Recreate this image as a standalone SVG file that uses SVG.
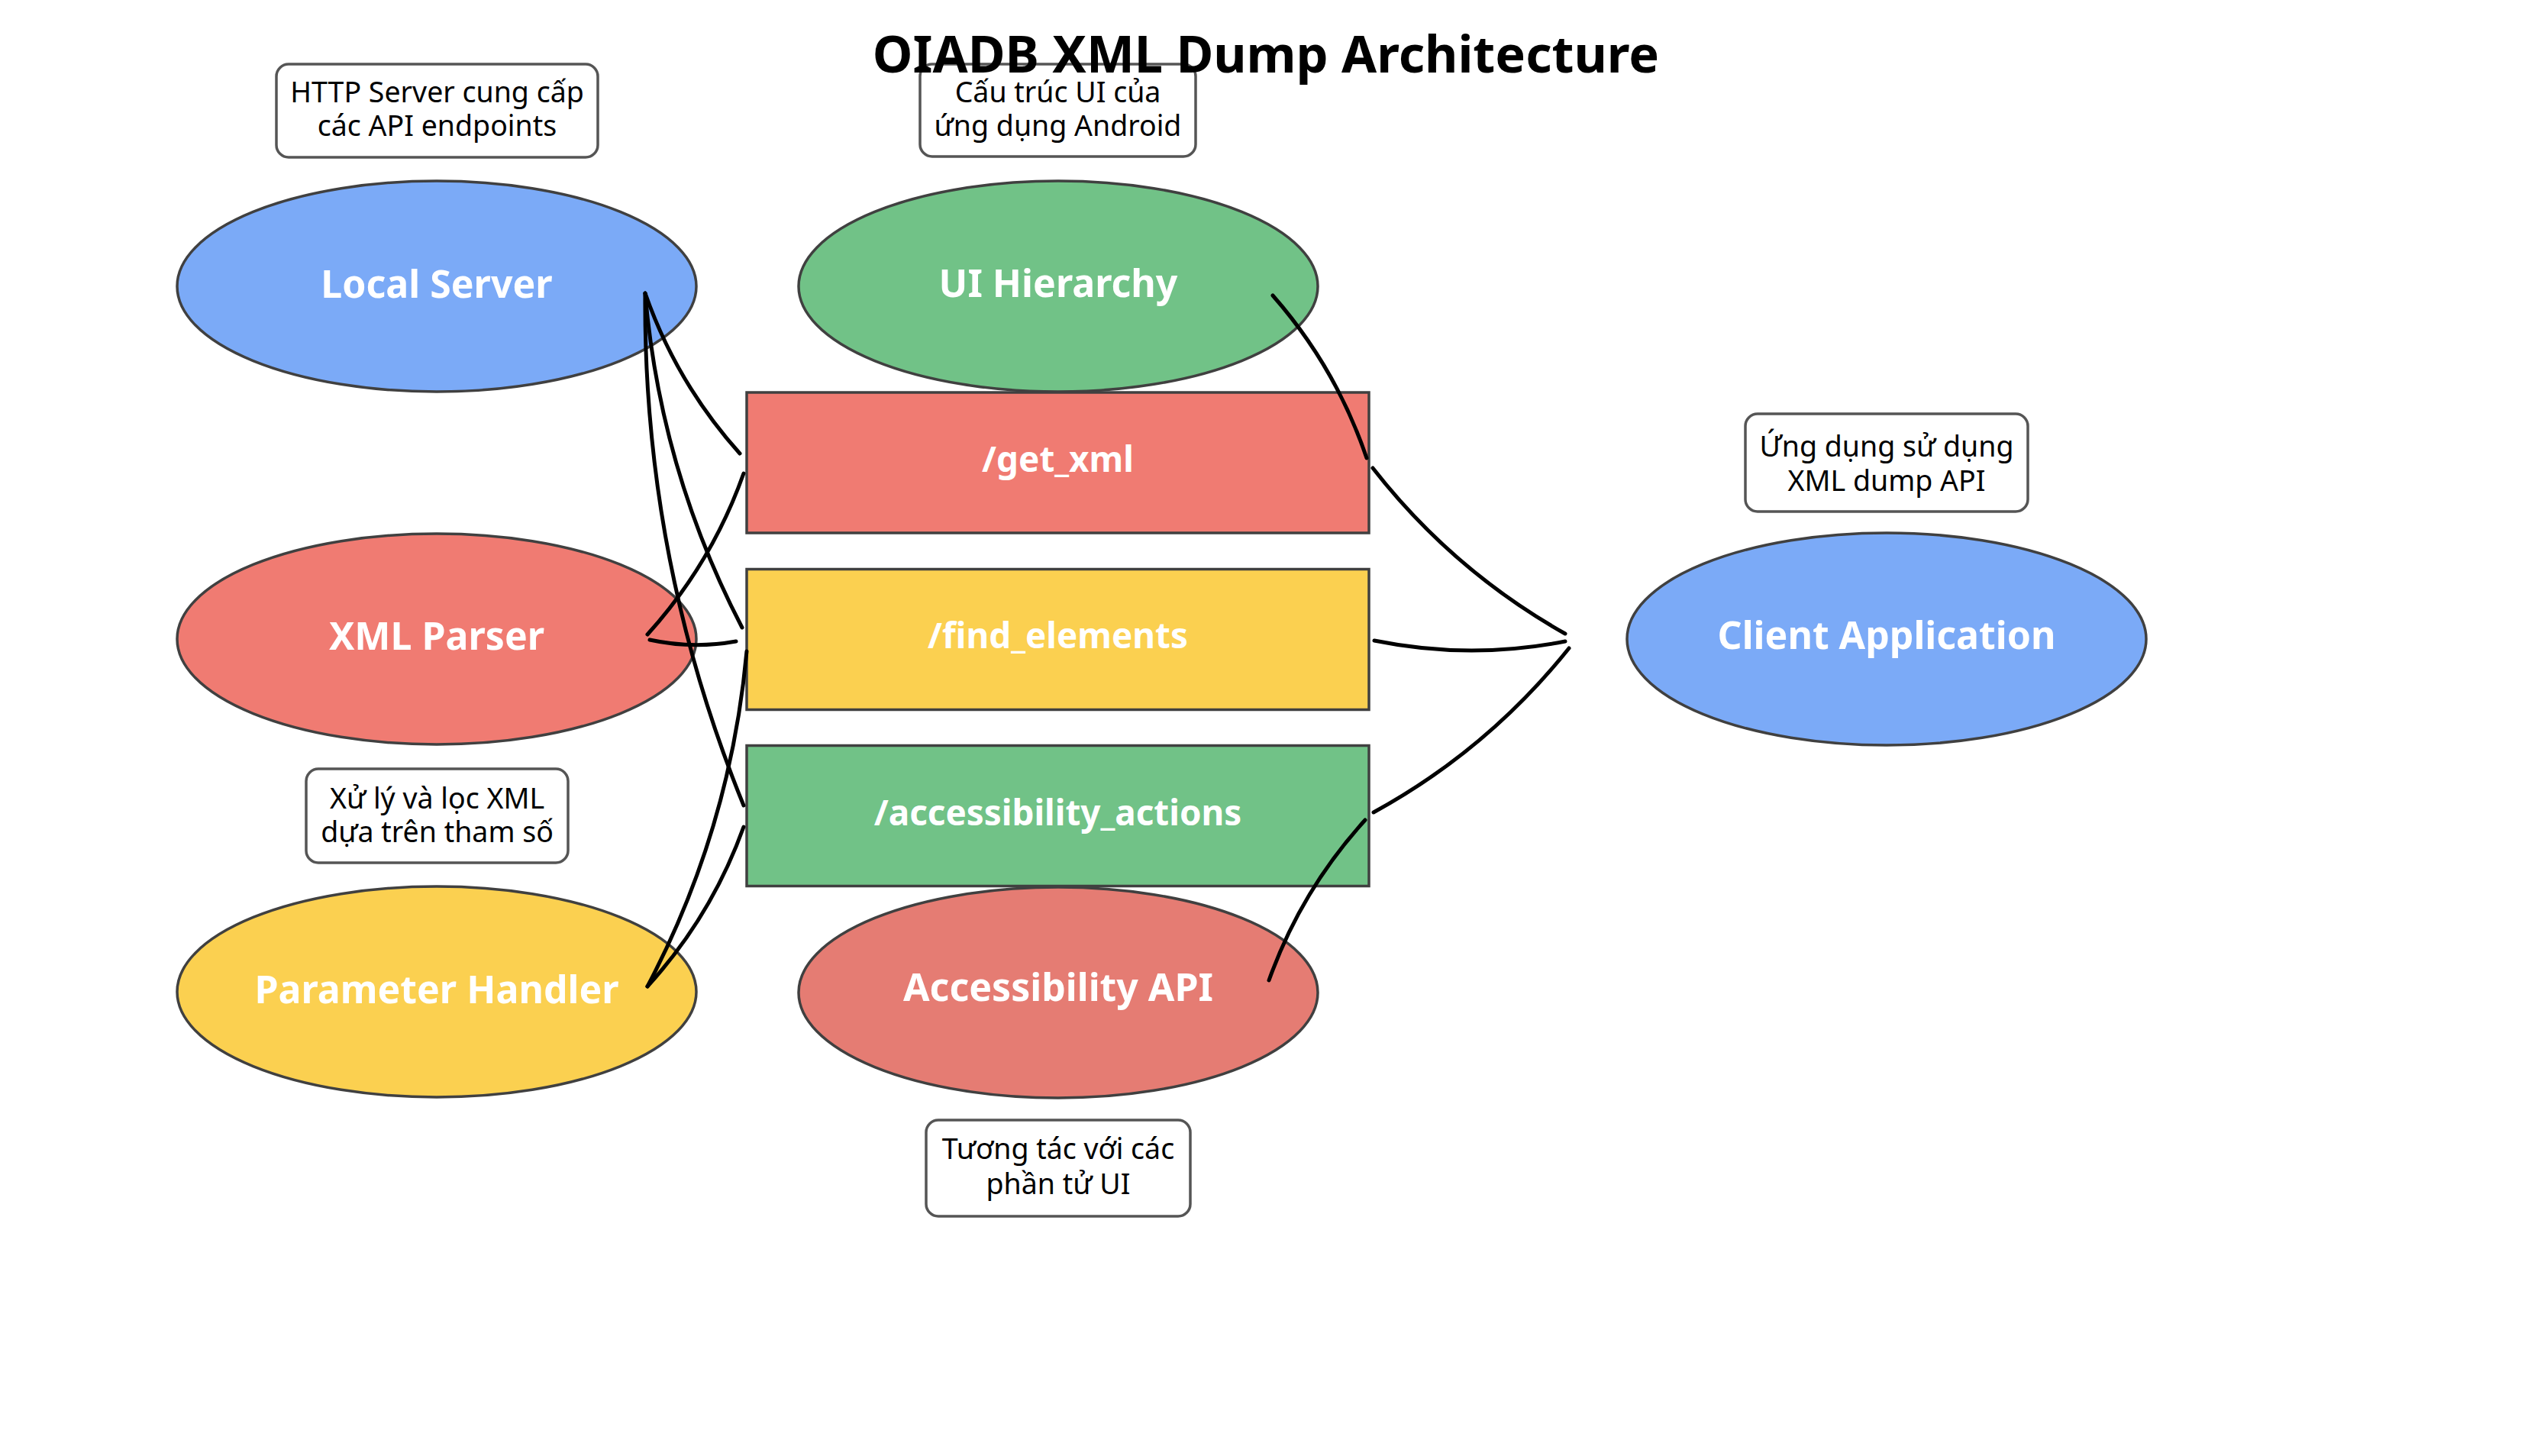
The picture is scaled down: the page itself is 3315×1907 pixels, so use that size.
<svg xmlns="http://www.w3.org/2000/svg" width="3315" height="1907" viewBox="0 0 3315 1907">
<style>
.bg{fill:#ffffff}
.node{stroke:#404040;stroke-width:3.5}
.lbl{font-family:"Noto Sans","Open Sans","DejaVu Sans",sans-serif;font-weight:bold;font-size:50px;fill:#ffffff;text-anchor:middle}
.lbl.ep{font-size:45.8px}
.note rect{fill:#ffffff;stroke:#555555;stroke-width:3.5}
.note text{font-family:"Noto Sans","Open Sans","DejaVu Sans",sans-serif;font-size:37.5px;fill:#000000;text-anchor:middle}
.title{font-family:"Noto Sans","Open Sans","DejaVu Sans",sans-serif;font-weight:bold;font-size:66.7px;fill:#000000;text-anchor:middle}
.edge{fill:none;stroke:#000000;stroke-width:5;stroke-linecap:round}
.blue{fill:#7BAAF7}
.green{fill:#71C287}
.red{fill:#F07B72}
.yellow{fill:#FBD050}
.red2{fill:#E57C73}
</style>
<rect class="bg" x="0" y="0" width="3315" height="1907"/>

<g id="note-local-server" class="note">
<rect x="362" y="84" width="421" height="122" rx="16" ry="16"/>
<text x="572.5" y="134">HTTP Server cung cấp</text>
<text x="572.5" y="178">các API endpoints</text>
</g>
<g id="note-ui-hierarchy" class="note">
<rect x="1205" y="84" width="361" height="121" rx="16" ry="16"/>
<text x="1385.5" y="134">Cấu trúc UI của</text>
<text x="1385.5" y="178">ứng dụng Android</text>
</g>
<g id="note-client" class="note">
<rect x="2286" y="542" width="370" height="128" rx="16" ry="16"/>
<text x="2471" y="598">Ứng dụng sử dụng</text>
<text x="2471" y="643">XML dump API</text>
</g>
<g id="note-xml-parser" class="note">
<rect x="401" y="1007" width="343" height="123" rx="16" ry="16"/>
<text x="572.5" y="1059">Xử lý và lọc XML</text>
<text x="572.5" y="1103">dựa trên tham số</text>
</g>
<g id="note-accessibility-api" class="note">
<rect x="1213" y="1467" width="346" height="126" rx="16" ry="16"/>
<text x="1386" y="1518">Tương tác với các</text>
<text x="1386" y="1564">phần tử UI</text>
</g>

<g id="local-server">
<ellipse class="node blue" cx="572" cy="375" rx="340" ry="138"/>
<text class="lbl" x="572" y="390">Local Server</text>
</g>
<g id="ui-hierarchy">
<ellipse class="node green" cx="1386" cy="375" rx="340" ry="138"/>
<text class="lbl" x="1386" y="389">UI Hierarchy</text>
</g>
<g id="xml-parser">
<ellipse class="node red" cx="572" cy="837" rx="340" ry="138"/>
<text class="lbl" x="572" y="851">XML Parser</text>
</g>
<g id="parameter-handler">
<ellipse class="node yellow" cx="572" cy="1299" rx="340" ry="138"/>
<text class="lbl" x="572" y="1314">Parameter Handler</text>
</g>
<g id="accessibility-api">
<ellipse class="node red2" cx="1386" cy="1300" rx="340" ry="138"/>
<text class="lbl" x="1386" y="1311">Accessibility API</text>
</g>
<g id="client-application">
<ellipse class="node blue" cx="2471" cy="837" rx="340" ry="139"/>
<text class="lbl" x="2471" y="850">Client Application</text>
</g>

<g id="get-xml">
<rect class="node red" x="978" y="514" width="815" height="184"/>
<text class="lbl ep" x="1385.5" y="618">/get_xml</text>
</g>
<g id="find-elements">
<rect class="node yellow" x="978" y="745.5" width="815" height="184"/>
<text class="lbl ep" x="1385.5" y="849">/find_elements</text>
</g>
<g id="accessibility-actions">
<rect class="node green" x="978" y="976.5" width="815" height="184"/>
<text class="lbl ep" x="1385.5" y="1081">/accessibility_actions</text>
</g>

<g id="connectors">
<path class="edge" d="M845,384 Q886,501.4 969,594"/>
<path class="edge" d="M845,384 Q864.7,615.7 972,822"/>
<path class="edge" d="M845,384 Q842.4,732.4 974,1055"/>
<path class="edge" d="M848,831 Q932.1,738.1 974,620"/>
<path class="edge" d="M851,838 Q907.3,850.3 964,840"/>
<path class="edge" d="M848,1292 Q956.9,1085.5 978,853"/>
<path class="edge" d="M848,1292 Q931.9,1200.1 974,1083"/>
<path class="edge" d="M1790,600 Q1749.8,481.2 1667,387"/>
<path class="edge" d="M1788,1074 Q1704,1166.4 1662,1284"/>
<path class="edge" d="M1798,613 Q1902.3,746.7 2050,830"/>
<path class="edge" d="M1800,839 Q1924.9,864.5 2050,840"/>
<path class="edge" d="M1799,1064 Q1948.5,982.1 2055,849"/>
</g>

<text class="title" x="1658" y="95">OIADB XML Dump Architecture</text>
</svg>
